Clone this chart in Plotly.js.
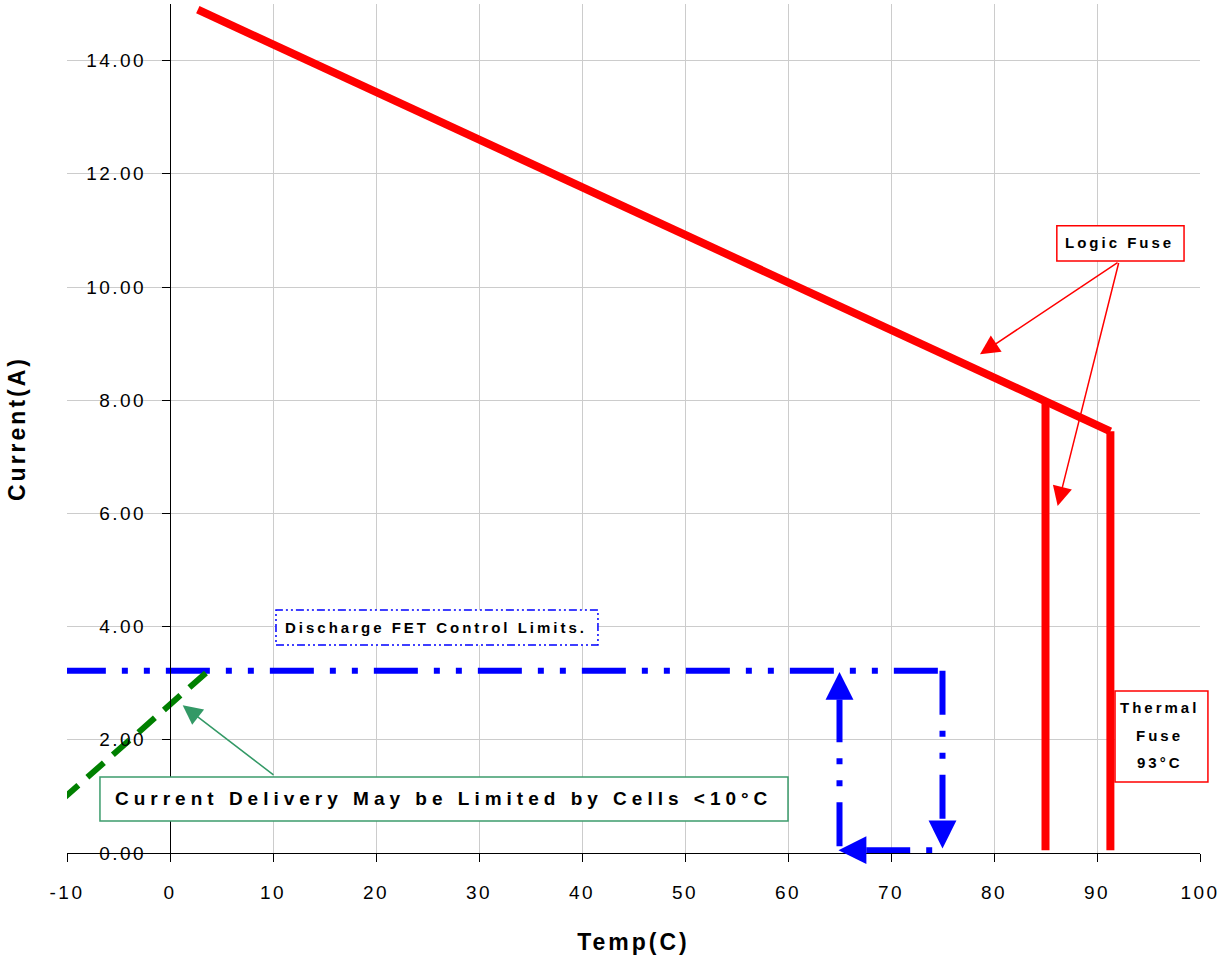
<!DOCTYPE html>
<html>
<head>
<meta charset="utf-8">
<script src="https://cdn.plot.ly/plotly-3.0.1.min.js"></script>
<style>
  html, body { margin: 0; padding: 0; background: #ffffff; }
  #chart { width: 1221px; height: 955px; }
  .xtick text, .ytick text { letter-spacing: 2.5px; }
  .xtitle, .ytitle { letter-spacing: 3px; }
  .annotation-text { letter-spacing: 3px; }
  .annotation[data-index="0"] .annotation-text { letter-spacing: 5px; }
</style>
</head>
<body>
<div id="chart"></div>
<script>
// ---- axis ticks ----
const xTicks = [-10, 0, 10, 20, 30, 40, 50, 60, 70, 80, 90, 100];
const xTickLabels = ['-10', '0', '10', '20', '30', '40', '50', '60', '70', '80', '90', '100'];
const yTicks = [0, 2, 4, 6, 8, 10, 12, 14];

// ---- Logic fuse: current limit vs temperature ----
const logicTemp = [2.7, 91.3];
const logicCurrent = [14.9, 7.45];
// Logic fuse trip edges (vertical drops)
const trip85Temp = [85, 85];
const trip85Current = [7.98, 0.05];
const trip91Temp = [91.3, 91.3];
const trip91Current = [7.45, 0.05];

// ---- Discharge FET control limits loop ----
const fetTopTemp = [-10.5, 75];
const fetTopCurrent = [3.22, 3.22];
const fetRightTemp = [75, 75];
const fetRightCurrent = [3.22, 0.58];
const fetBottomTemp = [74, 67.6];
const fetBottomCurrent = [0.05, 0.05];
const fetLeftTemp = [65, 65];
const fetLeftCurrent = [0.12, 2.71];
// FET arrowheads: tip and base
const fetArrowTipTemp = [75, 64.9, 65];
const fetArrowTipCurrent = [0.08, 0.05, 3.2];
const fetArrowBaseTemp = [75, 67.6, 65];
const fetArrowBaseCurrent = [0.58, 0.05, 2.71];

// ---- Cell-limited delivery ----
const cellTemp = [-10.5, 3.6];
const cellCurrent = [0.94, 3.2];

const FONT = 'Liberation Sans, Arial, Helvetica, sans-serif';

const traces = [
  { x: fetTopTemp, y: fetTopCurrent, mode: 'lines',
    line: { color: '#0000ff', width: 6, dash: '44px,16px,6px,16px,6px,16px' }, hoverinfo: 'skip' },
  { x: fetRightTemp, y: fetRightCurrent, mode: 'lines',
    line: { color: '#0000ff', width: 6, dash: '44px,16px,6px,16px,6px,16px' }, hoverinfo: 'skip' },
  { x: fetBottomTemp, y: fetBottomCurrent, mode: 'lines',
    line: { color: '#0000ff', width: 6, dash: '6px,16px,44px,16px,6px,16px' }, hoverinfo: 'skip' },
  { x: fetLeftTemp, y: fetLeftCurrent, mode: 'lines',
    line: { color: '#0000ff', width: 6, dash: '44px,16px,6px,16px,6px,16px' }, hoverinfo: 'skip' },
  { x: cellTemp, y: cellCurrent, mode: 'lines',
    line: { color: '#008000', width: 6, dash: '22px,12px' }, hoverinfo: 'skip' },
  { x: logicTemp, y: logicCurrent, mode: 'lines',
    line: { color: '#ff0000', width: 8 }, hoverinfo: 'skip' },
  { x: trip85Temp, y: trip85Current, mode: 'lines',
    line: { color: '#ff0000', width: 8 }, hoverinfo: 'skip' },
  { x: trip91Temp, y: trip91Current, mode: 'lines',
    line: { color: '#ff0000', width: 8 }, hoverinfo: 'skip' }
];

const txtFont = { family: FONT, size: 15, color: '#000000', weight: 'bold' };

const annotations = [
  { x: 26.6, y: 0.96, xref: 'x', yref: 'y', showarrow: false,
    text: 'Current Delivery May be Limited by Cells &lt;10°C',
    font: { family: FONT, size: 19, color: '#000000', weight: 'bold' } },
  { x: 25.84, y: 3.98, xref: 'x', yref: 'y', showarrow: false,
    text: 'Discharge FET Control Limits.', font: txtFont },
  { x: 92.2, y: 10.78, xref: 'x', yref: 'y', showarrow: false,
    text: 'Logic Fuse', font: txtFont },
  { x: 96.1, y: 2.57, xref: 'x', yref: 'y', showarrow: false,
    text: 'Thermal', font: txtFont },
  { x: 96.1, y: 2.075, xref: 'x', yref: 'y', showarrow: false,
    text: 'Fuse', font: txtFont },
  { x: 96.1, y: 1.6, xref: 'x', yref: 'y', showarrow: false,
    text: '93°C', font: txtFont },
  // Logic fuse pointers
  { x: 78.64, y: 8.81, ax: 92.14, ay: 10.45, xref: 'x', yref: 'y', axref: 'x', ayref: 'y',
    text: '', showarrow: true, arrowhead: 2, arrowsize: 2.6, arrowwidth: 1.5, arrowcolor: '#ff0000' },
  { x: 86.18, y: 6.13, ax: 92.14, ay: 10.45, xref: 'x', yref: 'y', axref: 'x', ayref: 'y',
    text: '', showarrow: true, arrowhead: 2, arrowsize: 2.6, arrowwidth: 1.5, arrowcolor: '#ff0000' },
  // Cell limit pointer
  { x: 1.23, y: 2.61, ax: 10.19, ay: 1.36, xref: 'x', yref: 'y', axref: 'x', ayref: 'y',
    text: '', showarrow: true, arrowhead: 2, arrowsize: 2.6, arrowwidth: 1.5, arrowcolor: '#339966' }
];
// FET loop arrowheads
for (let i = 0; i < fetArrowTipTemp.length; i++) {
  annotations.push({
    x: fetArrowTipTemp[i], y: fetArrowTipCurrent[i],
    ax: fetArrowBaseTemp[i], ay: fetArrowBaseCurrent[i],
    xref: 'x', yref: 'y', axref: 'x', ayref: 'y',
    text: '', showarrow: true, arrowhead: 2, arrowsize: 0.93, arrowwidth: 6, arrowcolor: '#0000ff'
  });
}

const shapes = [
  { type: 'rect', xref: 'x', yref: 'y', x0: -6.8, x1: 60.0, y0: 0.565, y1: 1.343, layer: 'above',
    fillcolor: '#ffffff', line: { color: '#3c9c6c', width: 1.5 } },
  { type: 'rect', xref: 'x', yref: 'y', x0: 10.29, x1: 41.55, y0: 3.675, y1: 4.293, layer: 'above',
    fillcolor: '#ffffff', line: { color: '#0000ff', width: 1.5, dash: '8px,3px,2px,3px,2px,3px' } },
  { type: 'rect', xref: 'x', yref: 'y', x0: 86.1, x1: 98.45, y0: 10.46, y1: 11.08, layer: 'above',
    fillcolor: '#ffffff', line: { color: '#ff0000', width: 1.5 } },
  { type: 'rect', xref: 'paper', yref: 'paper', x0: 0.925, x1: 1.007, y0: 0.0836, y1: 0.1908, layer: 'above',
    fillcolor: '#ffffff', line: { color: '#ff0000', width: 1.5 } }
];

const layout = {
  width: 1221, height: 955,
  margin: { l: 67, r: 21, t: 4, b: 102 },
  paper_bgcolor: '#ffffff', plot_bgcolor: '#ffffff',
  showlegend: false,
  xaxis: {
    range: [-10, 100], tickmode: 'array', tickvals: xTicks, ticktext: xTickLabels,
    showgrid: true, gridcolor: '#cccccc', gridwidth: 1,
    zeroline: false, showline: true, linecolor: '#000000', linewidth: 1,
    ticks: 'outside', ticklen: 8, tickcolor: '#000000', ticklabelstandoff: 14,
    tickfont: { family: FONT, size: 19, color: '#000000' },
    title: { text: 'Temp(C)', standoff: 33, font: { family: FONT, size: 23, color: '#000000', weight: 'bold' } },
    fixedrange: true
  },
  yaxis: {
    range: [0, 15], tickmode: 'array', tickvals: yTicks, tickformat: '.2f',
    anchor: 'free', position: 10 / 110, side: 'left',
    showgrid: true, gridcolor: '#cccccc', gridwidth: 1,
    zeroline: false, showline: true, linecolor: '#000000', linewidth: 1,
    ticks: 'outside', ticklen: 8, tickcolor: '#000000', ticklabelstandoff: 12,
    tickfont: { family: FONT, size: 19, color: '#000000' },
    title: { text: 'Current(A)', standoff: 53, font: { family: FONT, size: 23, color: '#000000', weight: 'bold' } },
    fixedrange: true
  },
  annotations: annotations,
  shapes: shapes
};

Plotly.newPlot('chart', traces, layout, { displayModeBar: false, staticPlot: true });
</script>
</body>
</html>
